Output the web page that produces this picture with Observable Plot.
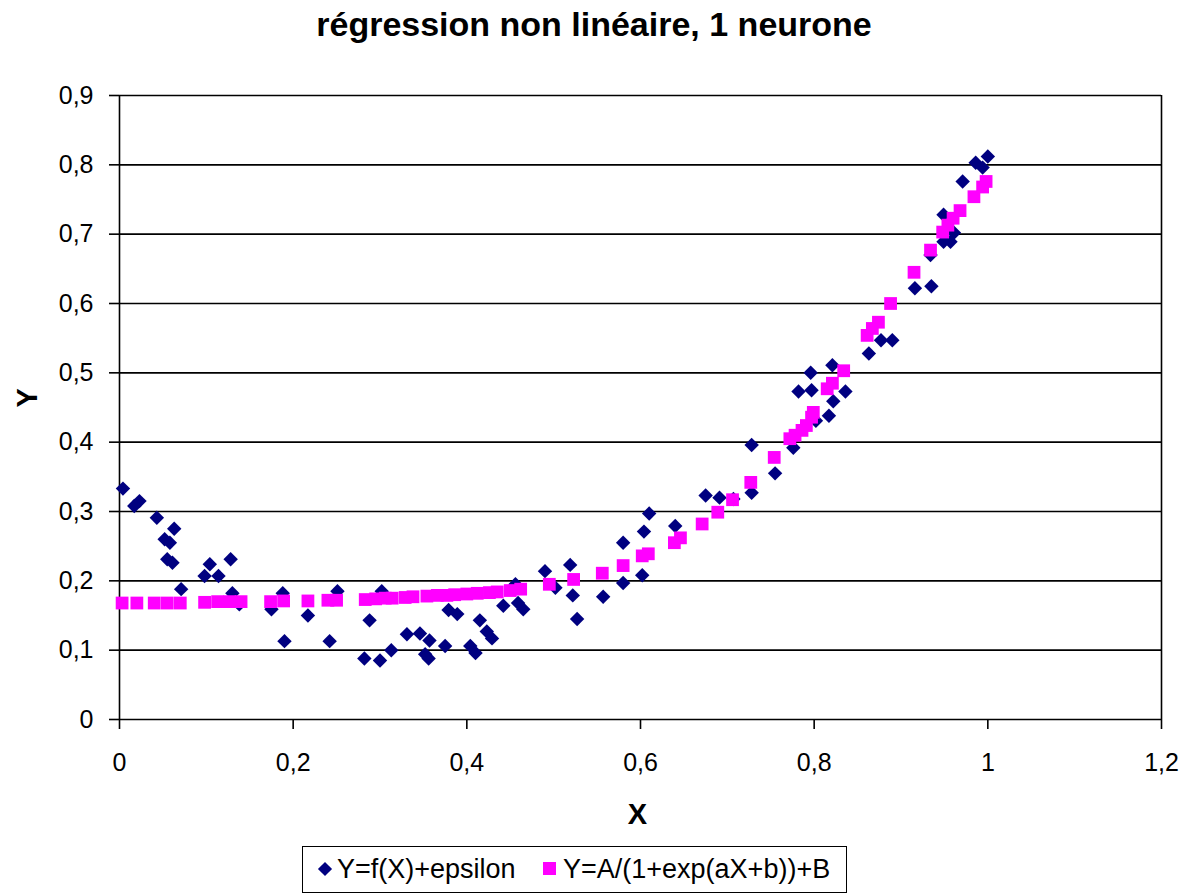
<!DOCTYPE html>
<html>
<head>
<meta charset="utf-8">
<script src="https://cdn.jsdelivr.net/npm/d3@7"></script>
<script src="https://cdn.jsdelivr.net/npm/@observablehq/plot@0.6"></script>
<style>
  html, body { margin: 0; padding: 0; background: #fff; }
  #page { position: relative; width: 1188px; height: 896px; font-family: "Liberation Sans", Arial, sans-serif; color: #000; }
  #title { height: 50px; line-height: 48px; text-align: center; font-weight: bold; font-size: 34px; white-space: nowrap; }
  #chart svg { display: block; }
  #legend { position: absolute; left: 302px; top: 846px; width: 545px; height: 47px; box-sizing: border-box; border: 1.5px solid #000; background: #fff; }
  .lg { position: absolute; top: 0; height: 44px; line-height: 44px; font-size: 27px; white-space: nowrap; }
  .dia { position: absolute; width: 10px; height: 10px; background: #000080; transform: rotate(45deg); }
  .sq { position: absolute; width: 13px; height: 13px; background: #FF00FF; }
</style>
</head>
<body>
<div id="page">
  <div id="title">régression non linéaire, 1 neurone</div>
  <div id="chart"></div>
  <div id="legend">
    <div class="dia" style="left:17px; top:17px;"></div>
    <div class="lg" style="left:34px;">Y=f(X)+epsilon</div>
    <div class="sq" style="left:240px; top:15px;"></div>
    <div class="lg" style="left:260px;">Y=A/(1+exp(aX+b))+B</div>
  </div>
</div>
<script>
// Observed data: Y = f(X) + epsilon
const blueX = [0.004,0.017,0.023,0.043,0.052,0.058,0.055,0.061,0.063,0.071,0.098,0.104,0.114,0.128,0.13,0.138,0.175,0.188,0.19,0.217,0.242,0.251,0.282,0.288,0.3,0.302,0.313,0.331,0.346,0.352,0.356,0.357,0.375,0.379,0.389,0.404,0.41,0.415,0.423,0.429,0.442,0.456,0.459,0.465,0.49,0.502,0.519,0.522,0.527,0.557,0.58,0.58,0.602,0.604,0.61,0.64,0.675,0.691,0.707,0.728,0.728,0.755,0.776,0.782,0.797,0.796,0.802,0.817,0.822,0.821,0.836,0.863,0.877,0.89,0.916,0.935,0.934,0.949,0.957,0.961,0.949,0.971,0.986,0.994,1.0];
const blueY = [0.333,0.308,0.315,0.291,0.26,0.255,0.231,0.226,0.275,0.188,0.207,0.224,0.207,0.231,0.182,0.166,0.159,0.182,0.113,0.15,0.113,0.185,0.088,0.143,0.085,0.185,0.1,0.123,0.124,0.094,0.088,0.114,0.106,0.158,0.152,0.106,0.096,0.143,0.127,0.117,0.164,0.195,0.168,0.159,0.214,0.19,0.223,0.179,0.145,0.177,0.255,0.197,0.208,0.271,0.297,0.279,0.323,0.32,0.318,0.396,0.327,0.355,0.392,0.473,0.475,0.5,0.431,0.438,0.459,0.511,0.473,0.528,0.547,0.547,0.622,0.625,0.67,0.689,0.689,0.702,0.728,0.776,0.803,0.796,0.812];
// Fitted model: Y = A/(1+exp(aX+b)) + B
const pinkX = [0.003,0.02,0.04,0.055,0.07,0.098,0.113,0.127,0.14,0.174,0.189,0.217,0.24,0.25,0.283,0.295,0.306,0.314,0.329,0.338,0.354,0.366,0.377,0.386,0.4,0.412,0.426,0.435,0.45,0.462,0.495,0.523,0.556,0.58,0.602,0.609,0.639,0.646,0.671,0.689,0.706,0.727,0.754,0.772,0.778,0.786,0.791,0.797,0.799,0.815,0.821,0.834,0.861,0.867,0.874,0.888,0.915,0.934,0.948,0.954,0.96,0.968,0.984,0.994,0.998];
const pinkY = [0.168,0.168,0.168,0.168,0.168,0.169,0.17,0.17,0.17,0.17,0.171,0.171,0.172,0.172,0.173,0.174,0.175,0.175,0.176,0.177,0.178,0.179,0.179,0.18,0.181,0.182,0.183,0.184,0.186,0.188,0.195,0.202,0.211,0.222,0.236,0.239,0.255,0.262,0.282,0.299,0.317,0.342,0.378,0.405,0.41,0.417,0.424,0.436,0.443,0.477,0.485,0.503,0.554,0.564,0.573,0.6,0.645,0.677,0.703,0.713,0.723,0.734,0.754,0.768,0.776];
const xTicks = [0,0.2,0.4,0.6,0.8,1,1.2];
const yTicks = [0,0.1,0.2,0.3,0.4,0.5,0.6,0.7,0.8,0.9];

const blue = blueX.map((x, i) => ({x, y: blueY[i]}));
const pink = pinkX.map((x, i) => ({x, y: pinkY[i]}));
const fr = d => String(d).replace(".", ",");

const chart = Plot.plot({
  width: 1188,
  height: 790,
  marginLeft: 119,
  marginRight: 27,
  marginTop: 45,
  marginBottom: 121,
  style: {fontFamily: "'Liberation Sans', Arial, sans-serif", fontSize: "25px", color: "#000", background: "#fff", overflow: "visible"},
  x: {domain: [0, 1.2]},
  y: {domain: [0, 0.9]},
  marks: [
    Plot.ruleY(yTicks.slice(1), {stroke: "#000", strokeWidth: 1.6}),
    Plot.ruleX([1.2], {stroke: "#000", strokeWidth: 1.6}),
    Plot.ruleY([0], {stroke: "#000", strokeWidth: 1.6}),
    Plot.ruleX([0], {stroke: "#000", strokeWidth: 1.6}),
    Plot.axisX({ticks: xTicks, tickFormat: fr, tickSize: 10, tickPadding: 24, label: null, stroke: "#000", strokeWidth: 1.6, fontSize: 25}),
    Plot.axisY({ticks: yTicks, tickFormat: fr, tickSize: 10, tickPadding: 16, label: null, stroke: "#000", strokeWidth: 1.6, fontSize: 25}),
    Plot.dot(blue, {x: "x", y: "y", symbol: "diamond2", r: 6.5, fill: "#000080", stroke: "none"}),
    Plot.dot(pink, {x: "x", y: "y", symbol: "square", r: 7.2, fill: "#FF00FF", stroke: "none"}),
    Plot.text(["X"], {text: d => d, frameAnchor: "bottom", dy: 104, dx: -3, fontWeight: "bold", fontSize: 29}),
    Plot.text(["Y"], {text: d => d, frameAnchor: "left", dx: -92, rotate: -90, fontWeight: "bold", fontSize: 29})
  ]
});
document.getElementById("chart").appendChild(chart);
</script>
</body>
</html>
